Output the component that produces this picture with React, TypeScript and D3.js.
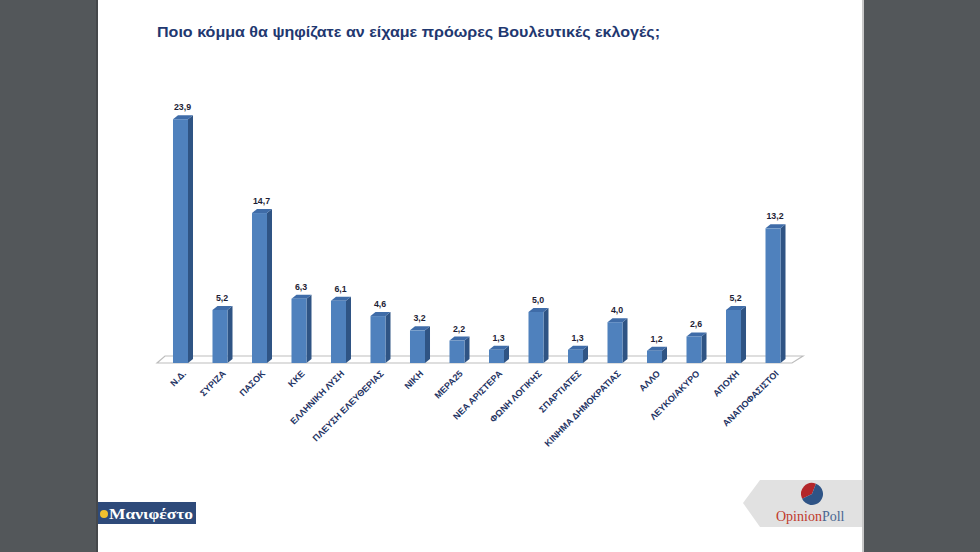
import React from 'react';
import * as d3 from 'd3';

const title = 'Ποιο κόμμα θα ψηφίζατε αν είχαμε πρόωρες Βουλευτικές εκλογές;';

const parties = [
  'Ν.Δ.', 'ΣΥΡΙΖΑ', 'ΠΑΣΟΚ', 'ΚΚΕ', 'ΕΛΛΗΝΙΚΗ ΛΥΣΗ', 'ΠΛΕΥΣΗ ΕΛΕΥΘΕΡΙΑΣ', 'ΝΙΚΗ', 'ΜΕΡΑ25',
  'ΝΕΑ ΑΡΙΣΤΕΡΑ', 'ΦΩΝΗ ΛΟΓΙΚΗΣ', 'ΣΠΑΡΤΙΑΤΕΣ', 'ΚΙΝΗΜΑ ΔΗΜΟΚΡΑΤΙΑΣ', 'ΑΛΛΟ', 'ΛΕΥΚΟ/ΑΚΥΡΟ',
  'ΑΠΟΧΗ', 'ΑΝΑΠΟΦΑΣΙΣΤΟΙ',
];
const votes = [23.9, 5.2, 14.7, 6.3, 6.1, 4.6, 3.2, 2.2, 1.3, 5.0, 1.3, 4.0, 1.2, 2.6, 5.2, 13.2];

const W = 980, H = 552;
const pageLeft = 98, pageRight = 862;
const depthX = 5, depthY = 4;
const fmt = (v: number) => v.toFixed(1).replace('.', ',');

export default function App() {
  const x = d3.scaleBand<string>().domain(parties).range([148.5, 805]).padding(0.62);
  const y = d3.scaleLinear().domain([0, 25]).range([363, 108]);
  const bw = x.bandwidth();
  const base = y(0);
  const [r0, r1] = x.range();

  // floor plate
  const floor = `M${r0 + 8.5},${base} L${r1 - 13},${base} L${r1 - 2},${base - 7} L${r0 + 16.5},${base - 7} Z`;

  // pie of the logo
  const pie = d3.pie<number>().sort(null).startAngle(-Math.PI / 2 - 0.45).endAngle(Math.PI * 1.5 - 0.45)([0.38, 0.62]);
  const arc = d3.arc<d3.PieArcDatum<number>>().innerRadius(0).outerRadius(11);

  return (
    <svg width={W} height={H} style={{ position: 'absolute', left: 0, top: 0 }}>
      <rect width={W} height={H} fill="#53575a" />
      <rect x={pageLeft - 2} width={2} height={H} fill="#45484b" />
      <rect x={pageLeft} width={pageRight - pageLeft} height={H} fill="#ffffff" />
      <rect x={pageRight} width={2} height={H} fill="#c8c8c8" />

      <text x={157} y={37} fill="#1f3870" fontFamily="'Liberation Sans', Arial, sans-serif" fontWeight="bold"
        fontSize={15.5} textLength={503} lengthAdjust="spacingAndGlyphs">{title}</text>

      <path d={floor} fill="#ffffff" stroke="#bdbdbd" strokeWidth={1.2} />

      {parties.map((p, i) => {
        const bx = x(p)!;
        const top = y(votes[i]);
        return (
          <g key={p}>
            <path d={`M${bx + bw},${top} L${bx + bw + depthX},${top - depthY} L${bx + bw + depthX},${base - depthY} L${bx + bw},${base} Z`} fill="#2f5484" />
            <path d={`M${bx},${top} L${bx + depthX},${top - depthY} L${bx + bw + depthX},${top - depthY} L${bx + bw},${top} Z`} fill="#3f6ca8" />
            <rect x={bx} y={top} width={bw} height={base - top} fill="#4f81bd" />
            <text x={bx + bw / 2 + 2} y={top - 9} textAnchor="middle" fill="#1d1d35"
              fontFamily="'Liberation Sans', Arial, sans-serif" fontWeight="bold" fontSize={8.8}>{fmt(votes[i])}</text>
            <text transform={`translate(${bx + bw / 2 + 4},${372}) rotate(-45)`} textAnchor="end" dy="0.35em"
              fill="#1f3464" fontFamily="'Liberation Sans', Arial, sans-serif" fontWeight="bold" fontSize={9}>{p}</text>
          </g>
        );
      })}

      {/* Μανιφέστο logo */}
      <rect x={98} y={502} width={98} height={22} fill="#2e4a7a" />
      <circle cx={104} cy={514} r={4} fill="#f2c12e" />
      <text x={109} y={519} fill="#ffffff" fontFamily="'Liberation Serif', 'DejaVu Serif', serif" fontWeight="bold"
        fontSize={15} textLength={84} lengthAdjust="spacingAndGlyphs">Μανιφέστο</text>

      {/* OpinionPoll logo */}
      <path d="M743,503 L760,480 L862,480 L862,527 L760,527 Z" fill="#e1e1e1" />
      <g transform="translate(812,494)">
        {pie.map((s, i) => (
          <path key={i} d={arc(s)!} fill={i === 0 ? '#b3262a' : '#2f5486'} />
        ))}
      </g>
      <text x={776} y={521} fontFamily="'Liberation Serif', 'DejaVu Serif', serif" fontSize={14}>
        <tspan fill="#c0392b">Opinion</tspan><tspan fill="#4a6792">Poll</tspan>
      </text>
    </svg>
  );
}
